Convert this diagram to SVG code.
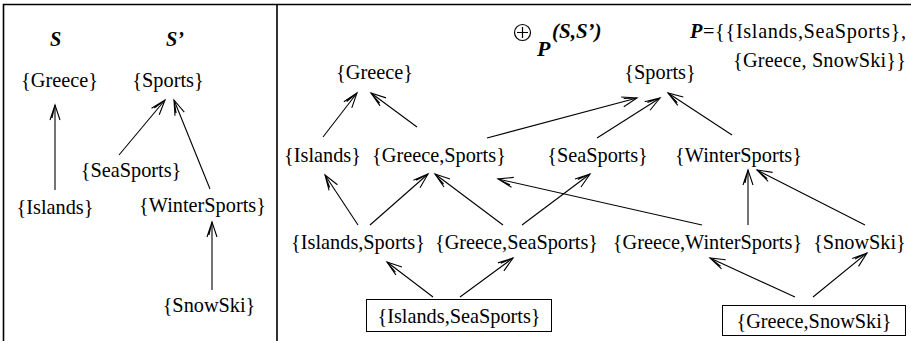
<svg xmlns="http://www.w3.org/2000/svg" width="911" height="341" viewBox="0 0 911 341" font-family="'Liberation Serif', 'Times New Roman', serif">
<style>
text{font-family:'Liberation Serif','Times New Roman',serif;font-size:20.3px;fill:#000}
.n{text-anchor:middle}
.bi{font-weight:bold;font-style:italic}
.frame{stroke:#000;stroke-width:1.6;fill:none}
.c line{stroke:#000;stroke-width:1.1;marker-end:url(#ah)}
.box{fill:#fff;stroke:#000;stroke-width:1}
</style>
<defs>
<marker id="ah" markerUnits="userSpaceOnUse" markerWidth="20" markerHeight="14" refX="0" refY="0" viewBox="-16 -7 18 14" orient="auto">
<path d="M-15,-5 L0,0 L-15,5 M-13,-3 L0,0" fill="none" stroke="#000" stroke-width="1.1"/>
</marker>
</defs>
<rect width="911" height="341" fill="#fff"/>
<g id="frame">
<path class="frame" d="M3.5,341 V4.5 H911 M277,4.5 V341"/>
</g>
<g id="titles">
<text class="bi" x="50" y="46">S</text>
<text class="bi" x="166" y="46">S’</text>
<circle cx="522.5" cy="32.5" r="8" fill="none" stroke="#000" stroke-width="1.2"/>
<path d="M517,32.5 H528 M522.5,27 V38" stroke="#000" stroke-width="1.2"/>
<text class="bi" x="537" y="56" style="font-size:22px">P</text>
<text class="bi" x="552" y="38" style="font-size:21px">(S,S’)</text>
<text x="690" y="38" textLength="216" lengthAdjust="spacing"><tspan class="bi">P</tspan>={{Islands,SeaSports},</text>
<text x="733" y="67" textLength="173" lengthAdjust="spacing">{Greece, SnowSki}}</text>
</g>
<g id="L-Greece"><text class="n" x="59.5" y="87">{Greece}</text></g>
<g id="L-Sports"><text class="n" x="168" y="87">{Sports}</text></g>
<g id="L-SeaSports"><text class="n" x="131" y="177">{SeaSports}</text></g>
<g id="L-Islands"><text class="n" x="55" y="214">{Islands}</text></g>
<g id="L-WinterSports"><text class="n" x="202.5" y="212">{WinterSports}</text></g>
<g id="L-SnowSki"><text class="n" x="209" y="312">{SnowSki}</text></g>
<g id="R-Greece"><text class="n" x="374.5" y="79">{Greece}</text></g>
<g id="R-Sports"><text class="n" x="660" y="79">{Sports}</text></g>
<g id="R-Islands"><text class="n" x="322.5" y="162">{Islands}</text></g>
<g id="R-GreeceSports"><text class="n" x="439" y="162">{Greece,Sports}</text></g>
<g id="R-SeaSports"><text class="n" x="597.5" y="162">{SeaSports}</text></g>
<g id="R-WinterSports"><text class="n" x="738.5" y="162">{WinterSports}</text></g>
<g id="R-IslandsSports"><text class="n" x="358" y="249">{Islands,Sports}</text></g>
<g id="R-GreeceSeaSports"><text class="n" x="516.5" y="249">{Greece,SeaSports}</text></g>
<g id="R-GreeceWinterSports"><text class="n" x="707.5" y="249">{Greece,WinterSports}</text></g>
<g id="R-SnowSki"><text class="n" x="859.5" y="249">{SnowSki}</text></g>
<g id="R-IslandsSeaSports"><rect class="box" x="366.5" y="299.5" width="185" height="32"/><text class="n" x="459" y="323">{Islands,SeaSports}</text></g>
<g id="R-GreeceSnowSki"><rect class="box" x="722.5" y="305.5" width="183" height="30"/><text class="n" x="814" y="328">{Greece,SnowSki}</text></g>
<g class="c" id="connectors">
<line x1="55" y1="190" x2="55" y2="105"/>
<line x1="119" y1="155" x2="165" y2="100"/>
<line x1="210" y1="189" x2="174" y2="100"/>
<line x1="212" y1="290" x2="212" y2="222"/>
<line x1="323" y1="137" x2="357" y2="93"/>
<line x1="417" y1="127" x2="371" y2="93"/>
<line x1="487" y1="138" x2="637" y2="98"/>
<line x1="597" y1="138" x2="660" y2="98"/>
<line x1="732" y1="135" x2="668" y2="93"/>
<line x1="358" y1="225" x2="325" y2="175"/>
<line x1="370" y1="225" x2="428" y2="174"/>
<line x1="503" y1="225" x2="435" y2="174"/>
<line x1="522" y1="225" x2="590" y2="174"/>
<line x1="702" y1="225" x2="498" y2="179"/>
<line x1="748" y1="225" x2="748" y2="170"/>
<line x1="865" y1="225" x2="757" y2="170"/>
<line x1="433" y1="297" x2="387" y2="262"/>
<line x1="460" y1="297" x2="513" y2="258"/>
<line x1="795" y1="297" x2="710" y2="258"/>
<line x1="813" y1="297" x2="867" y2="253"/>
</g>
</svg>
